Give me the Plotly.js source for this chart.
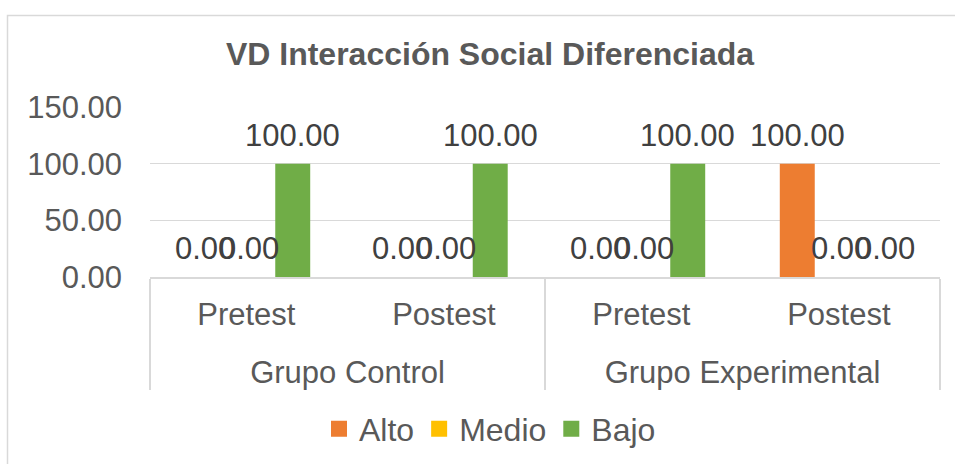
<!DOCTYPE html>
<html>
<head>
<meta charset="utf-8">
<script src="https://cdn.plot.ly/plotly-3.0.1.min.js"></script>
<style>
  html, body { margin: 0; padding: 0; background: #fff; }
  #chart { width: 955px; height: 464px; }
</style>
</head>
<body>
<div id="chart"></div>
<script>
const groups = ["Grupo Control", "Grupo Control", "Grupo Experimental", "Grupo Experimental"];
const phases = ["Pretest", "Postest", "Pretest", "Postest"];
const seriesNames = ["Alto", "Medio", "Bajo"];
const alto = [0, 0, 0, 100];
const medio = [0, 0, 0, 0];
const bajo = [100, 100, 100, 0];
const seriesValues = [alto, medio, bajo];
const seriesColors = ["#ED7D31", "#FFC000", "#70AD47"];
const yTicks = [0, 50, 100, 150];

const FONT = "Liberation Sans, Arial, sans-serif";
const TEXT = "#595959";
const LABEL = "#404040";
const GRID = "#D9D9D9";
const BARGAP = 0.332;
// taller (invisible) strut so the group row sits lower, as in the reference
const STRUT = "<span style='font-size:58px'>\u200A</span>";
const phaseLabels = phases.map(p => p + STRUT);

const traces = seriesNames.map((name, s) => ({
  type: "bar",
  name: name,
  x: [groups, phaseLabels],
  y: seriesValues[s],
  marker: { color: seriesColors[s], line: { width: 0 } },
  showlegend: false,
  hoverinfo: "skip"
}));
// legend entries with larger square swatches (no visible points)
seriesNames.forEach((name, s) => {
  traces.push({
    type: "scatter", mode: "markers", name: name,
    x: [[groups[0]], [phaseLabels[0]]], y: [null],
    marker: { symbol: "square", size: 17, color: seriesColors[s] },
    showlegend: true, hoverinfo: "skip"
  });
});

// data labels, placed from the data values at each bar's slot
const slot = (1 - BARGAP) / seriesNames.length;
const annotations = [];
seriesValues.forEach((vals, s) => {
  vals.forEach((v, i) => {
    annotations.push({
      xref: "x", yref: "y",
      x: i + (s - (seriesNames.length - 1) / 2) * slot,
      y: v,
      text: v.toFixed(2),
      showarrow: false,
      xanchor: "center", yanchor: "bottom",
      yshift: 9,
      font: { family: FONT, size: 31, color: LABEL }
    });
  });
});

const layout = {
  width: 955, height: 464,
  margin: { l: 150, r: 15, t: 107, b: 187, pad: 0 },
  paper_bgcolor: "#ffffff",
  plot_bgcolor: "#ffffff",
  font: { family: FONT, size: 31, color: TEXT },
  title: {
    text: "<b>VD Interacción Social Diferenciada</b>",
    font: { family: FONT, size: 32, color: TEXT },
    xref: "container", yref: "container",
    x: 490 / 955, xanchor: "center",
    y: 1 - 54 / 464, yanchor: "middle"
  },
  barmode: "group",
  bargap: BARGAP,
  bargroupgap: 0.205,
  xaxis: {
    type: "multicategory",
    automargin: false,
    showline: true, linecolor: GRID, linewidth: 1.5,
    showgrid: false, zeroline: false,
    ticks: "",
    ticklabelstandoff: 9,
    showdividers: true, dividercolor: GRID, dividerwidth: 1.5,
    tickfont: { family: FONT, size: 31, color: TEXT },
    fixedrange: true
  },
  yaxis: {
    automargin: false,
    range: [0, 150],
    tickvals: yTicks,
    ticktext: yTicks.map(v => v.toFixed(2)),
    showgrid: true, gridcolor: GRID, gridwidth: 1.5,
    zeroline: false, showline: false,
    ticks: "",
    ticklabelstandoff: 27,
    tickfont: { family: FONT, size: 31, color: TEXT },
    fixedrange: true
  },
  showlegend: true,
  legend: {
    orientation: "h",
    xref: "container", yref: "container",
    x: 490 / 955, xanchor: "center",
    y: 1 - 429 / 464, yanchor: "middle",
    font: { family: FONT, size: 32, color: TEXT },
    itemclick: false, itemdoubleclick: false,
    itemwidth: 30,
    traceorder: "normal"
  },
  annotations: annotations,
  shapes: [{
    type: "rect", xref: "paper", yref: "paper",
    x0: (7.5 - 150) / 790, x1: (975 - 150) / 790,
    y0: (277 - 480) / 170, y1: (277 - 15.5) / 170,
    line: { color: GRID, width: 1.5 }, fillcolor: "rgba(0,0,0,0)",
    layer: "below"
  }]
};

Plotly.newPlot("chart", traces, layout, { displayModeBar: false, staticPlot: true });
</script>
</body>
</html>
